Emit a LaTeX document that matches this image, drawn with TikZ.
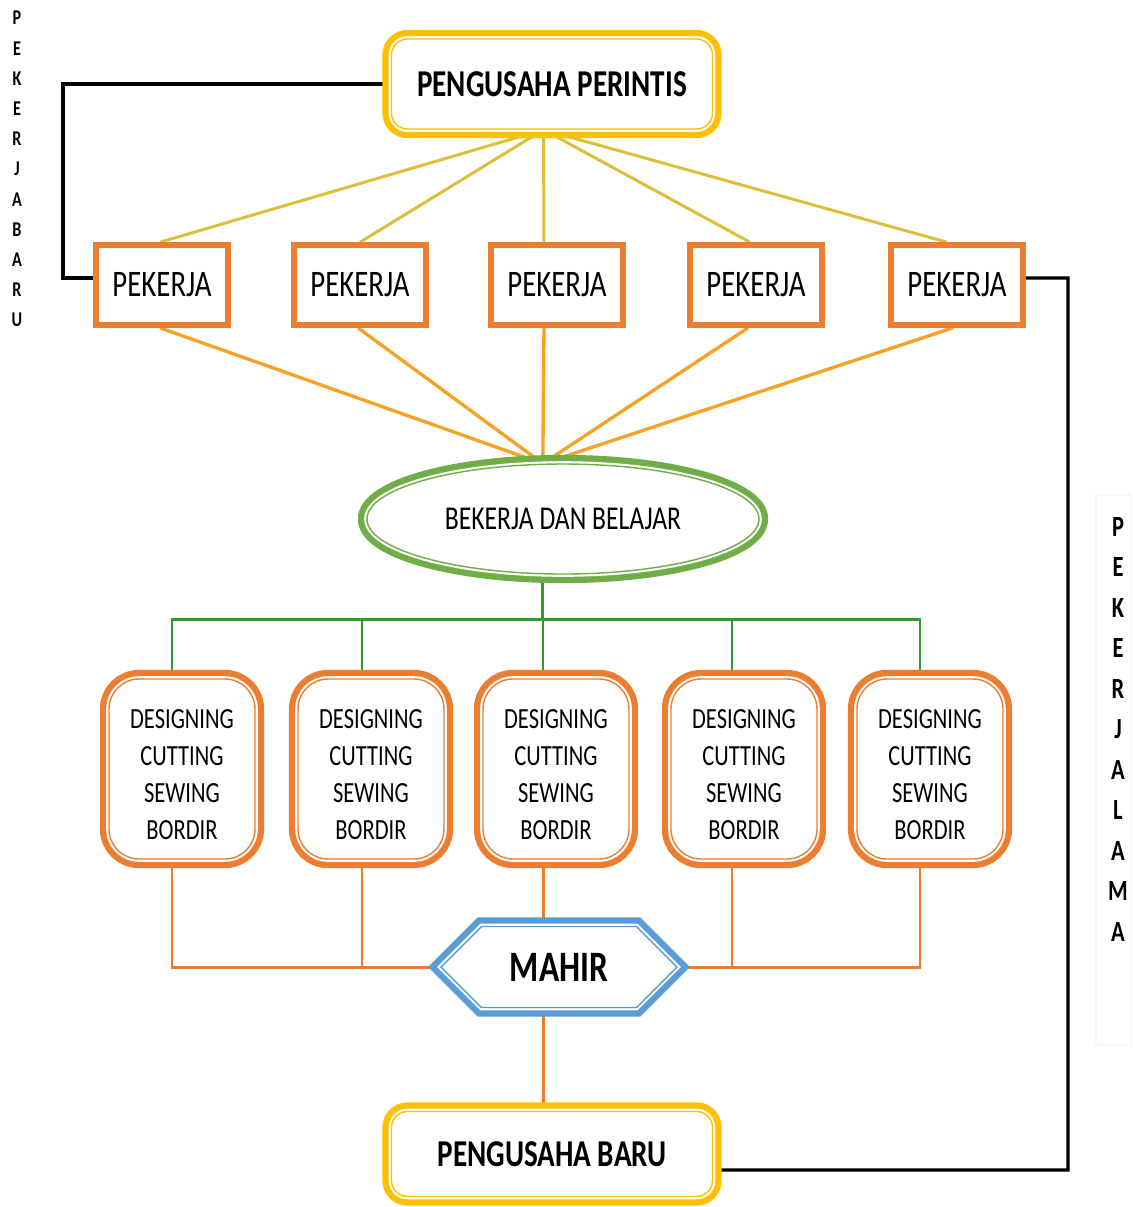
\documentclass[tikz,border=0pt]{standalone}
\usepackage{fontspec}
\setmainfont{Carlito}
\usepackage{graphicx}
\usepackage{tikz}
\usetikzlibrary{shapes.geometric,shapes.symbols,backgrounds}

\definecolor{gold}{HTML}{FFC000}
\definecolor{boxorange}{HTML}{ED7D31}
\definecolor{fanyellow}{HTML}{DDBE3C}
\definecolor{fanorange}{HTML}{F5A225}
\definecolor{ellgreen}{HTML}{70AD47}
\definecolor{busgreen}{HTML}{2E9B2E}
\definecolor{hexblue}{HTML}{5B9BD5}
\definecolor{linkorange}{HTML}{F07A22}

\newcommand{\tallstr}[1]{\scalebox{1}[1.3]{#1}}

\begin{document}
\begin{tikzpicture}[
    x=0.1mm, y=-0.1mm,
    % define styles
    dbl/.style={
        draw=#1, fill=white,
        line width=0.4pt,
        preaction={draw=#1, line width=5.2pt},
        preaction={draw=white, line width=1.6pt}
    },
    boss/.style={
        dbl=gold, rounded corners=1.6mm,
        minimum width=32.1mm, minimum height=9mm,
        font=\fontsize{8.3}{10}\selectfont\bfseries
    },
    worker/.style={
        draw=boxorange, line width=1.6pt, fill=white,
        minimum width=13.2mm, minimum height=8mm,
        font=\fontsize{8.2}{10}\selectfont
    },
    skill/.style={
        dbl=boxorange, rounded corners=3mm,
        minimum width=14.6mm, minimum height=18mm,
        align=center,
        font=\fontsize{6.4}{10.5}\selectfont
    },
    fan/.style={draw=fanyellow, line width=0.85pt},
    fanb/.style={draw=fanorange, line width=0.95pt},
    bus/.style={draw=busgreen, line width=0.85pt},
    link/.style={draw=linkorange, line width=0.85pt},
    wire/.style={draw=black, line width=0.9pt},
    letter/.style={font=\fontsize{4.6}{5}\selectfont\bfseries, inner sep=0pt}
]
\useasboundingbox (0,0) rectangle (1133,1207);

% Top: pengusaha perintis
\node[boss] (perintis) at (552,84) {\tallstr{PENGUSAHA PERINTIS}};

% Row of pekerja
\foreach \x [count=\i] in {162,360,557,756,957}
    \node[worker] (p\i) at (\x,285) {\tallstr{PEKERJA}};

% Bekerja dan belajar
\node[ellipse, dbl=ellgreen, minimum width=39.2mm, minimum height=11mm,
      font=\fontsize{7.3}{9}\selectfont] (belajar) at (563,519) {\tallstr{BEKERJA DAN BELAJAR}};

% Skill boxes
\foreach \x [count=\i] in {182,371,556,744,930}
    \node[skill] (s\i) at (\x,769)
        {\rule{0pt}{3mm}\tallstr{DESIGNING}\\\tallstr{CUTTING}\\\tallstr{SEWING}\\\tallstr{BORDIR}};

% Mahir
\node[signal, signal to=west and east, signal pointer angle=90, dbl=hexblue,
      minimum width=23.6mm, minimum height=8.1mm,
      font=\fontsize{9.5}{11}\selectfont\bfseries] (mahir) at (559,967) {\tallstr{MAHIR}\hspace{1.8mm}};

% Bottom: pengusaha baru
\node[boss, minimum height=8.5mm] (baru) at (552,1154) {\tallstr{PENGUSAHA BARU}};

% Side labels
\foreach \ch [count=\i from 0] in {P,E,K,E,R,J,A,B,A,R,U}
    \node[letter] (lb\i) at (17,18+30.2*\i) {\tallstr{\ch}};
\draw[gray!6] (1096,495) rectangle (1131,1045);
\foreach \ch [count=\i from 0] in {P,E,K,E,R,J,A,L,A,M,A}
    \node[letter, font=\fontsize{6.4}{8}\selectfont\bfseries] (rl\i) at (1118,527+40.5*\i) {\tallstr{\ch}};

\begin{scope}[on background layer]
% Fans from perintis to pekerja
\coordinate (hub) at ([xshift=-0.85mm]perintis.south);
\foreach \n/\dx in {1/-0.2,2/0,3/-1.3,4/-0.6,5/-1}
    \draw[fan] (hub) -- ([xshift=\dx mm]p\n.north);
% Pekerja to belajar
\foreach \n/\dx in {1/-0.2,2/-0.2,3/-1.3,4/-0.8,5/-0.4}
    \draw[fanb] ([xshift=\dx mm]p\n.south) -- (belajar.110);
% Belajar to skill boxes
\path (belajar.250) ++(0,45) coordinate (gbus);
\draw[bus] (belajar.250) -- (gbus);
\foreach \n/\dx in {1/-1,2/-0.9,3/-1.3,4/-1.2,5/-1}
    \draw[bus] (gbus) -| ([xshift=\dx mm]s\n.north);
% Skill boxes to mahir
\draw[link] ([xshift=-1mm]s1.south) |- (mahir.west);
\draw[link] ([xshift=-0.9mm]s2.south) |- (mahir.west);
\draw[link] ([xshift=-1.2mm]s4.south) |- (mahir.east);
\draw[link] ([xshift=-1mm]s5.south) |- (mahir.east);
\draw[link] (s3.south -| hub) -- (mahir.north -| hub);
\draw[link] (mahir.south -| hub) -- (baru.north -| hub);
% Black loops
\coordinate (lbend) at (63,84);
\coordinate (rbend) at (1068,1170);
\draw[wire] (perintis.west) -- (lbend) |- ([yshift=0.7mm]p1.west);
\draw[wire] ([yshift=-1.6mm]baru.east) -- (rbend) |- ([yshift=0.7mm]p5.east);
\end{scope}
\end{tikzpicture}
\end{document}
